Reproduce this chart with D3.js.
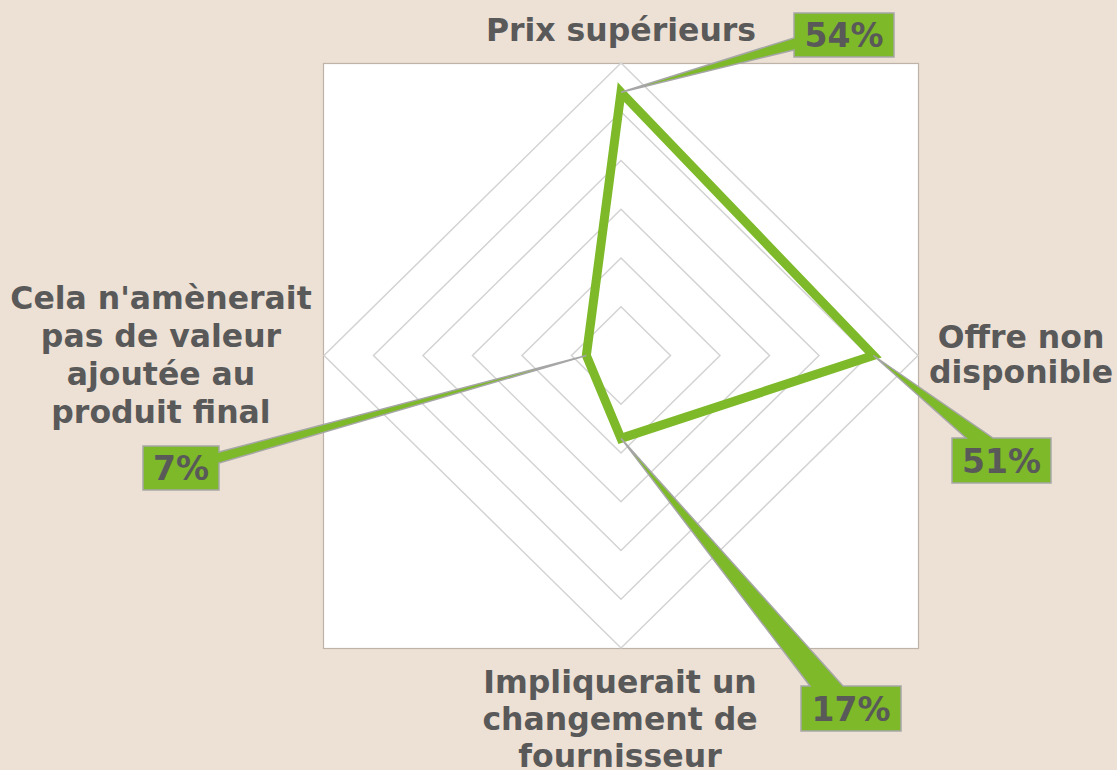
<!DOCTYPE html>
<html>
<head>
<meta charset="utf-8">
<script src="https://cdn.jsdelivr.net/npm/d3@7"></script>
<style>
  html, body { margin: 0; padding: 0; background: #EDE0D4; }
  svg { display: block; }
</style>
</head>
<body>
<svg id="chart" width="1117" height="770"></svg>
<script>
// ---- data ----
const categories = [
  ["Prix supérieurs"],
  ["Offre non", "disponible"],
  ["Impliquerait un", "changement de", "fournisseur"],
  ["Cela n'amènerait", "pas de valeur", "ajoutée au", "produit final"]
];
const values = [54, 51, 17, 7];
const valueLabels = ["54%", "51%", "17%", "7%"];
const ringTicks = [10, 20, 30, 40, 50, 60];

// ---- layout ----
const W = 1117, H = 770;
const cx = 621, cy = 355.5, rx = 297, ry = 292.5;
const plot = { x: 323, y: 63, w: 595, h: 585 };
const green = "#7DB928", textCol = "#595959";

const svg = d3.select("#chart");
svg.append("rect").attr("width", W).attr("height", H).attr("fill", "#EDE0D4");
svg.append("rect").attr("x", plot.x + 0.5).attr("y", plot.y + 0.5)
  .attr("width", plot.w).attr("height", plot.h)
  .attr("fill", "#fff").attr("stroke", "#BDB3A9").attr("stroke-width", 1.2);

const r = d3.scaleLinear().domain([0, 60]).range([0, 1]);
const n = categories.length;
const angle = i => i * 2 * Math.PI / n; // 0 = up, clockwise
const pt = (i, v) => [cx + Math.sin(angle(i)) * r(v) * rx, cy - Math.cos(angle(i)) * r(v) * ry];

// grid rings
const lineClosed = d3.line().curve(d3.curveLinearClosed);
svg.append("g").selectAll("path").data(ringTicks).join("path")
  .attr("d", t => lineClosed(d3.range(n).map(i => pt(i, t))))
  .attr("fill", "none").attr("stroke", "#D3D3D3").attr("stroke-width", 1.5);

// series
svg.append("path")
  .attr("d", lineClosed(values.map((v, i) => pt(i, v))))
  .attr("fill", "none").attr("stroke", green).attr("stroke-width", 9)
  .attr("stroke-linejoin", "miter");

// category labels
const catPos = [
  { x: 621, y: 41, dy: 37 },
  { x: 1021, y: 348, dy: 35 },
  { x: 620, y: 693, dy: 37 },
  { x: 161, y: 309, dy: 38 }
];
const catG = svg.append("g").attr("font-family", "'DejaVu Sans', Verdana, sans-serif")
  .attr("font-weight", "bold").attr("font-size", 31.5).attr("fill", textCol)
  .attr("text-anchor", "middle");
categories.forEach((lines, i) => {
  const t = catG.append("text");
  lines.forEach((ln, k) => {
    t.append("tspan").attr("x", catPos[i].x).attr("y", catPos[i].y + k * catPos[i].dy).text(ln);
  });
});

// callouts
const callouts = [
  { x: 794, y: 13, w: 100, h: 44, side: "left", a: 38, b: 50 },
  { x: 952, y: 438, w: 99, h: 45, side: "top", a: 966, b: 993 },
  { x: 801, y: 686, w: 100, h: 45, side: "top", a: 810, b: 843 },
  { x: 143, y: 446, w: 76, h: 44, side: "right", a: 452, b: 463 }
];
function calloutPath(c, tip) {
  const p = d3.path();
  const { x, y, w, h } = c;
  if (c.side === "left") {
    p.moveTo(x, y); p.lineTo(x + w, y); p.lineTo(x + w, y + h); p.lineTo(x, y + h);
    p.lineTo(x, c.b); p.lineTo(tip[0], tip[1]); p.lineTo(x, c.a);
  } else if (c.side === "top") {
    p.moveTo(x, y); p.lineTo(c.a, y); p.lineTo(tip[0], tip[1]); p.lineTo(c.b, y);
    p.lineTo(x + w, y); p.lineTo(x + w, y + h); p.lineTo(x, y + h);
  } else {
    p.moveTo(x, y); p.lineTo(x + w, y); p.lineTo(x + w, c.a); p.lineTo(tip[0], tip[1]);
    p.lineTo(x + w, c.b); p.lineTo(x + w, y + h); p.lineTo(x, y + h);
  }
  p.closePath();
  return p.toString();
}
const cg = svg.append("g");
values.forEach((v, i) => {
  const c = callouts[i];
  const tip = pt(i, v);
  cg.append("path").attr("d", calloutPath(c, tip))
    .attr("fill", green).attr("stroke", "#A6A6A6").attr("stroke-width", 1.5)
    .attr("stroke-linejoin", "miter");
  cg.append("text")
    .attr("x", c.x + c.w / 2).attr("y", c.y + c.h / 2 + 12)
    .attr("text-anchor", "middle")
    .attr("font-family", "'DejaVu Sans', Verdana, sans-serif")
    .attr("font-weight", "bold").attr("font-size", 33).attr("fill", textCol)
    .text(valueLabels[i]);
});
</script>
</body>
</html>
